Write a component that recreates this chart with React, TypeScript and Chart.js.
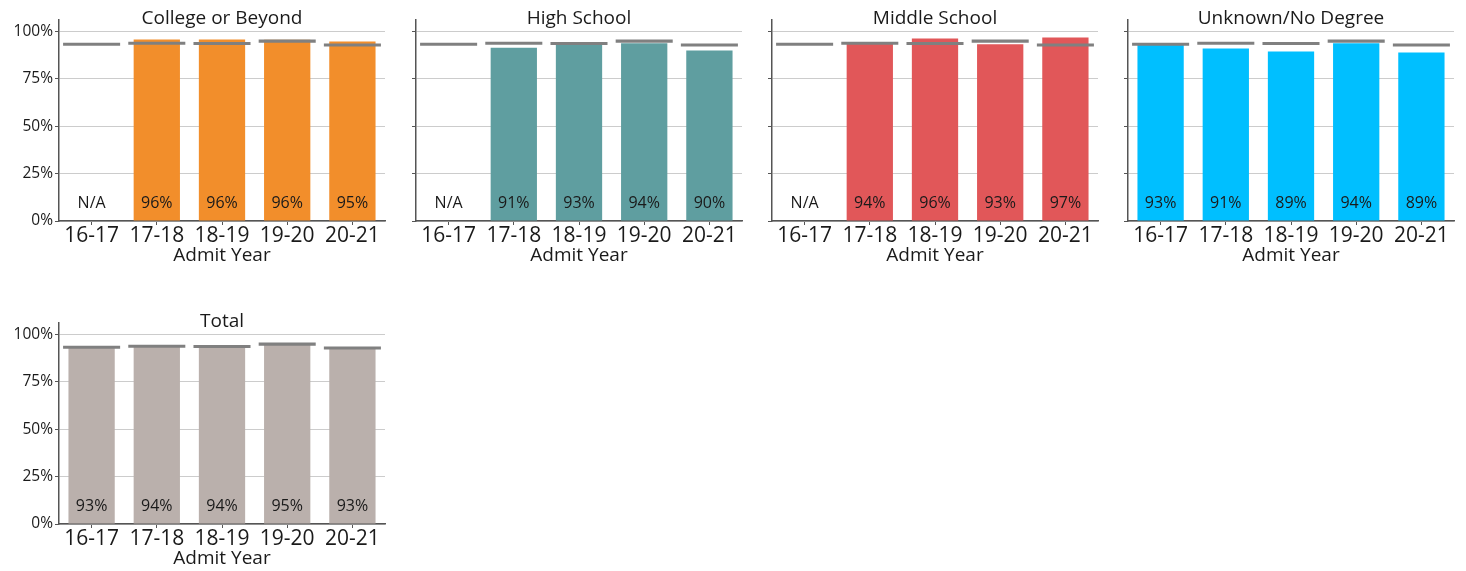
import React, { useEffect, useRef } from "react";
import { Chart, registerables } from "chart.js";

Chart.register(...registerables);

// ---------- data ----------
const admitYears = ["16-17", "17-18", "18-19", "19-20", "20-21"];
const yTickValues = [0, 25, 50, 75, 100];
const collegeValues: (number | null)[] = [null, 95.8, 95.8, 95.6, 94.7];
const highSchoolValues: (number | null)[] = [null, 91.4, 93.1, 93.8, 89.9];
const middleSchoolValues: (number | null)[] = [null, 93.6, 96.3, 93.3, 96.8];
const unknownValues: (number | null)[] = [93.0, 91.0, 89.4, 93.8, 88.9];
const totalValues: (number | null)[] = [93.3, 93.8, 93.6, 94.9, 92.8];
const panelTitles = ["College or Beyond", "High School", "Middle School", "Unknown/No Degree", "Total"];

const FONT = "'Open Sans', 'Liberation Sans', sans-serif";
const TEXT = "#1a1a1a";
const AXIS = "#555555";

type Panel = {
  title: string;
  values: (number | null)[];
  color: string;
  left: number;
  top: number;
  showY: boolean;
};

const panels: Panel[] = [
  { title: panelTitles[0], values: collegeValues, color: "#F28E2B", left: 0.5, top: 0, showY: true },
  { title: panelTitles[1], values: highSchoolValues, color: "#5F9EA0", left: 357.5, top: 0, showY: false },
  { title: panelTitles[2], values: middleSchoolValues, color: "#E15759", left: 714, top: 0, showY: false },
  { title: panelTitles[3], values: unknownValues, color: "#00BFFF", left: 1070, top: 0, showY: false },
  { title: panelTitles[4], values: totalValues, color: "#BAB0AC", left: 0.5, top: 303, showY: true },
];

const CW = 396;
const CH = 268;

const labelPlugin = {
  id: "panelLabels",
  afterDatasetsDraw(chart: any, _args: any, opts: any) {
    const { ctx, chartArea, scales } = chart;
    const xs = scales.x;
    const ys = scales.y;
    ctx.save();
    // title
    ctx.fillStyle = TEXT;
    ctx.font = `19px ${FONT}`;
    ctx.textAlign = "center";
    ctx.textBaseline = "middle";
    ctx.fillText(opts.title, (chartArea.left + chartArea.right) / 2, chartArea.top - 1);
    // value labels
    ctx.font = `16px ${FONT}`;
    const vals: (number | null)[] = opts.values;
    vals.forEach((v, i) => {
      const x = xs.getPixelForValue(i);
      const y = ys.getPixelForValue(0) - 17.5;
      const t = v == null ? "N/A" : Math.round(v) + "%";
      ctx.fillText(t, x, y);
    });
    ctx.restore();
  },
};

function PanelChart({ panel }: { panel: Panel }) {
  const ref = useRef<HTMLCanvasElement | null>(null);
  useEffect(() => {
    if (!ref.current) return;
    const chart = new Chart(ref.current, {
      type: "bar",
      data: {
        labels: admitYears,
        datasets: [
          {
            data: totalValues.map((v) => (v == null ? null : [v - 0.8, v + 0.8])) as any,
            backgroundColor: "#808080",
            barPercentage: 0.875,
            categoryPercentage: 1,
            grouped: false,
            order: 0,
          } as any,
          {
            data: panel.values as any,
            backgroundColor: panel.color,
            barPercentage: 0.71,
            categoryPercentage: 1,
            grouped: false,
            order: 1,
          } as any,
        ],
      },
      options: {
        responsive: false,
        animation: false,
        devicePixelRatio: 1,
        layout: { padding: { top: 19.5, right: 12, bottom: 0, left: 0 } },
        plugins: {
          legend: { display: false },
          tooltip: { enabled: false },
          title: { display: false },
          panelLabels: { title: panel.title, values: panel.values },
        } as any,
        scales: {
          x: {
            type: "category",
            offset: true,
            grid: { offset: false, drawOnChartArea: false, tickLength: 4, tickColor: AXIS },
            border: { color: AXIS, width: 1.5 },
            ticks: { color: TEXT, font: { family: FONT, size: 21 }, padding: -2, maxRotation: 0, autoSkip: false },
            title: {
              display: true,
              text: "Admit Year",
              color: TEXT,
              font: { family: FONT, size: 19 },
              padding: { top: 0, bottom: 1.5 },
            },
            afterFit: (s: any) => {
              s.height = 47;
            },
          },
          y: {
            min: 0,
            max: 106.3,
            afterBuildTicks: (s: any) => {
              s.ticks = yTickValues.map((v) => ({ value: v }));
            },
            grid: { color: "#cccccc", lineWidth: 1, tickLength: 4, tickColor: AXIS, drawOnChartArea: true },
            border: { color: AXIS, width: 1.5 },
            ticks: {
              display: panel.showY,
              color: TEXT,
              font: { family: FONT, size: 15.5 },
              padding: 2,
              callback: (v: any) => v + "%",
            },
            afterFit: (s: any) => {
              s.width = 58;
            },
          },
        },
      } as any,
      plugins: [labelPlugin],
    });
    return () => chart.destroy();
  }, [panel]);
  return (
    <canvas
      ref={ref}
      width={CW}
      height={CH}
      style={{ position: "absolute", left: panel.left, top: panel.top, width: CW, height: CH }}
    />
  );
}

export default function App() {
  return (
    <div style={{ position: "absolute", left: 0, top: 0, width: 1466, height: 571, overflow: "hidden", background: "#fff" }}>
      {panels.map((p) => (
        <PanelChart key={p.title} panel={p} />
      ))}
    </div>
  );
}
